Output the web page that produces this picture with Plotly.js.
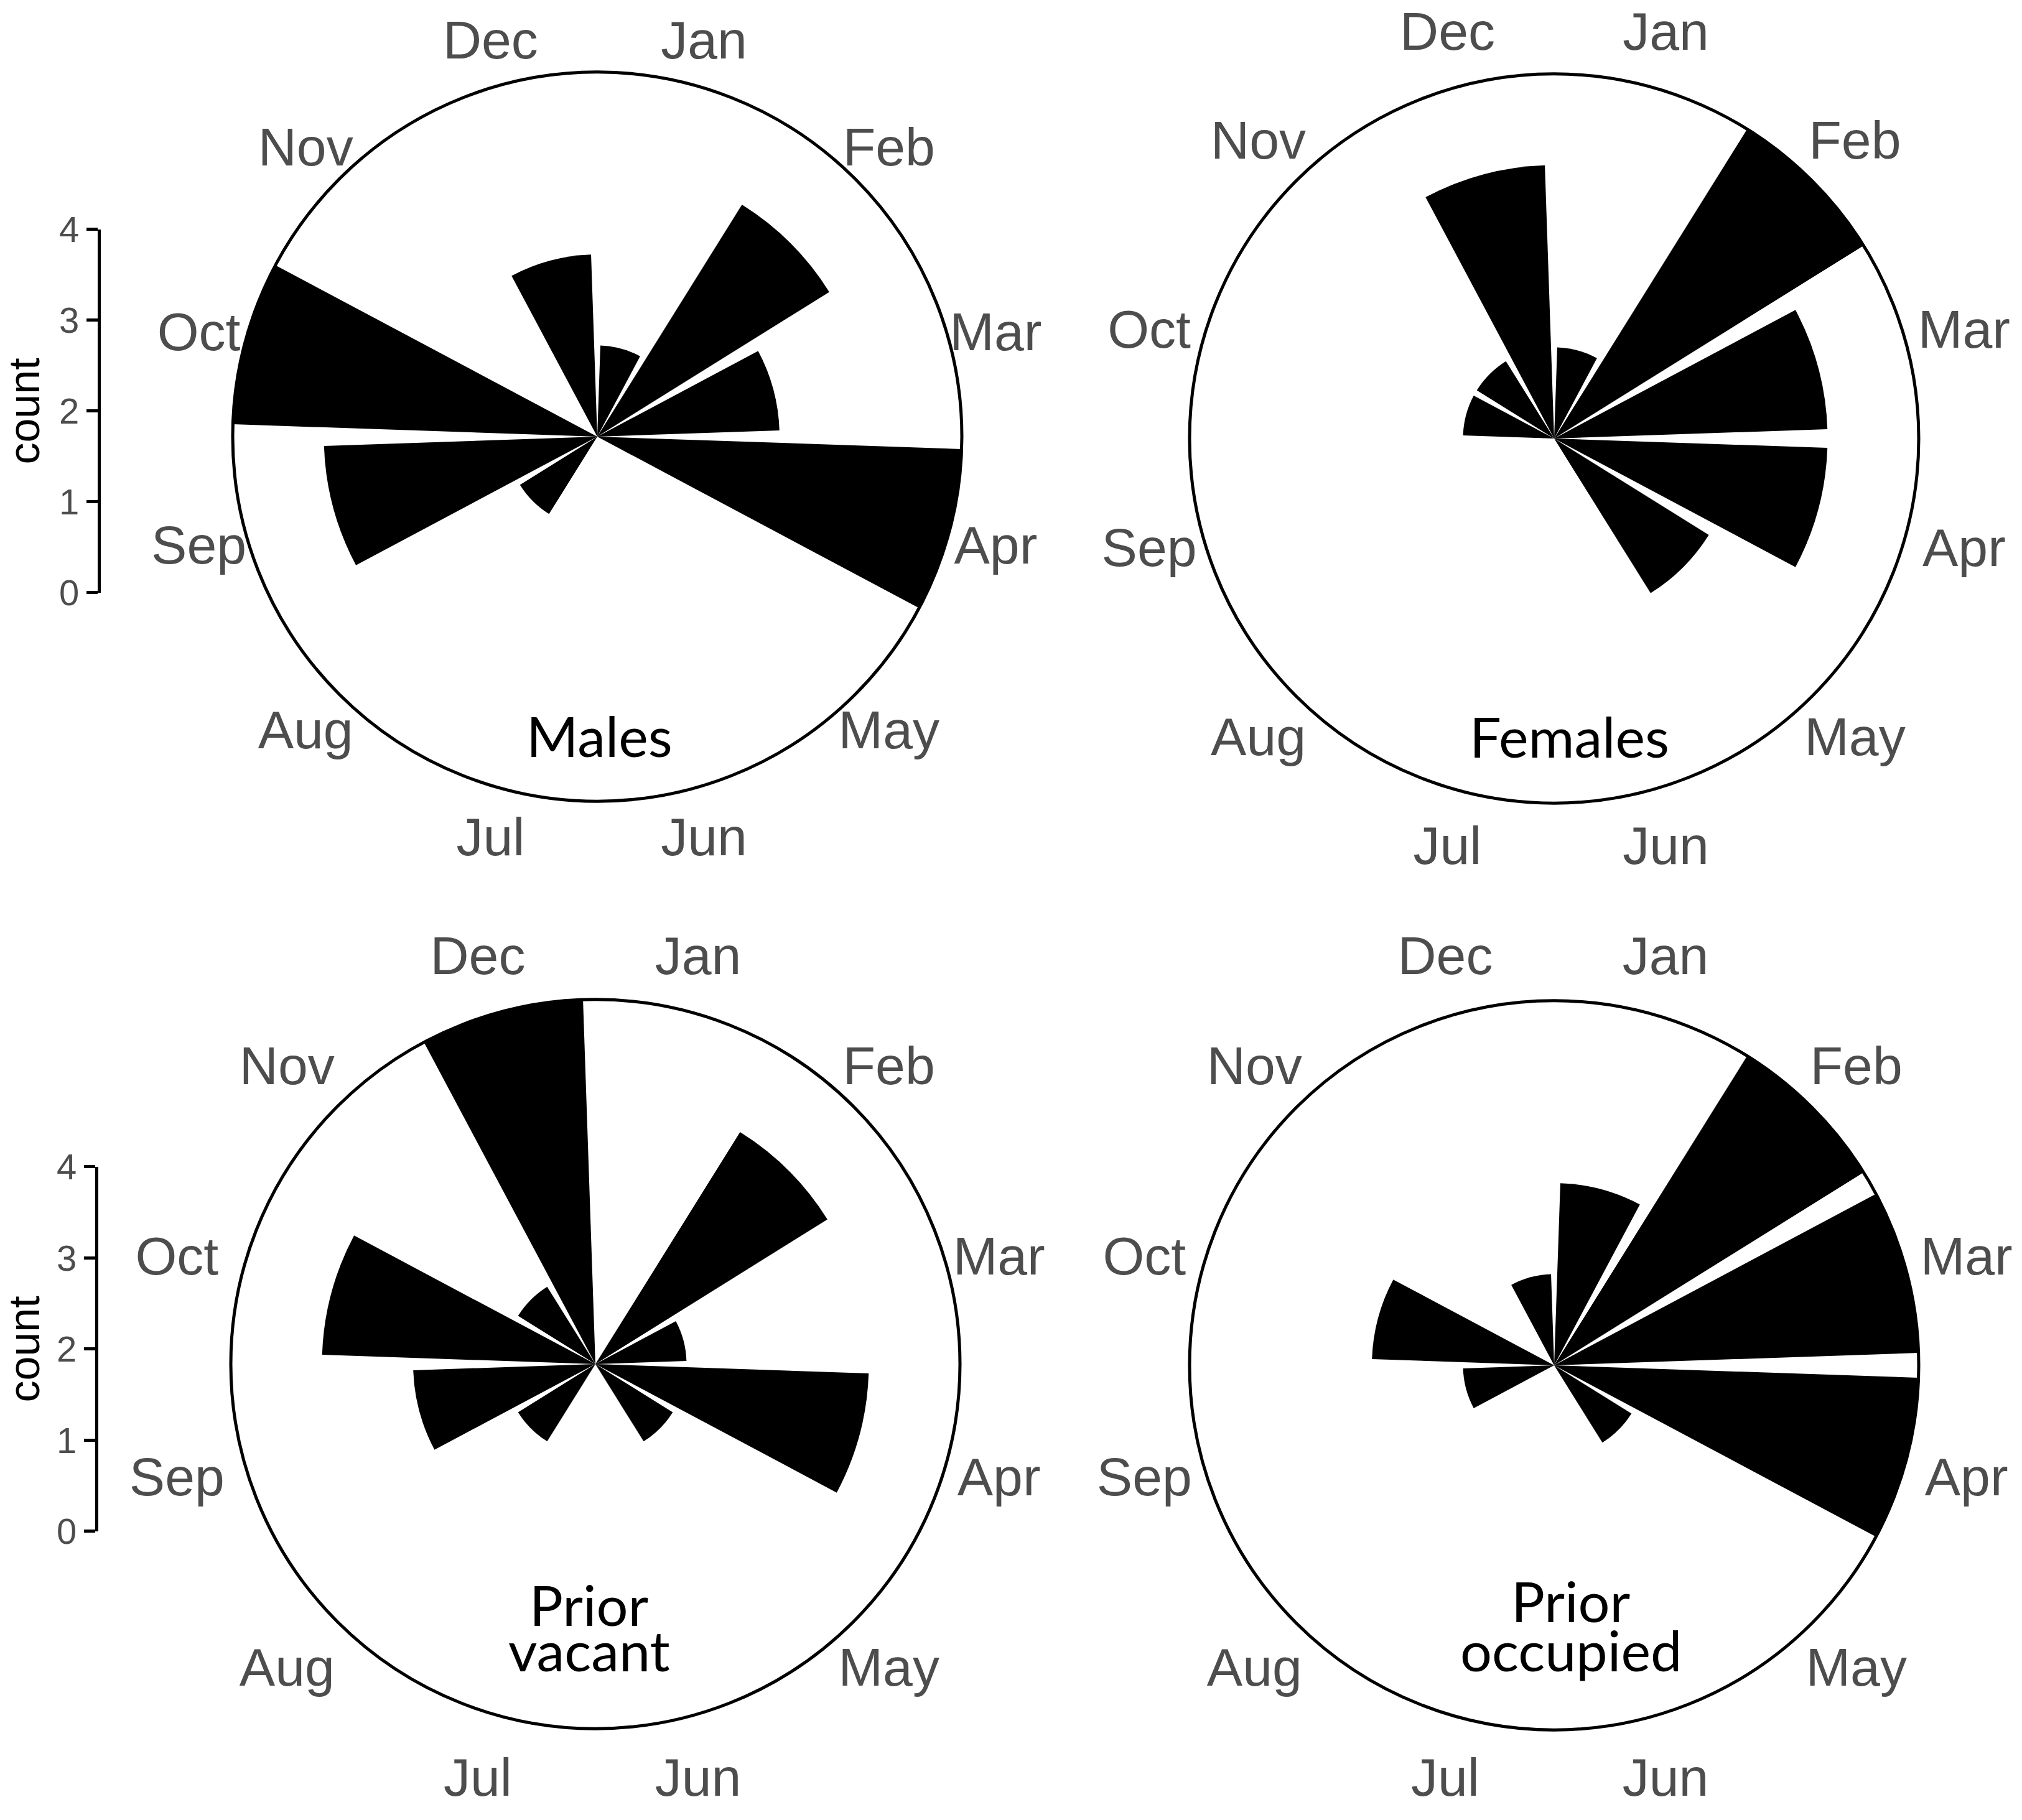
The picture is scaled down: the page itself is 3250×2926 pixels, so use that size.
<!DOCTYPE html>
<html>
<head>
<meta charset="utf-8">
<script src="https://cdn.plot.ly/plotly-3.0.1.min.js"></script>
<style>
  body { margin: 0; background: #fff; }
  #rosas { width: 3250px; height: 2926px; }
</style>
</head>
<body>
<div id="rosas"></div>
<script>
// meses y conteos por grupo
const months = ["Jan", "Feb", "Mar", "Apr", "May", "Jun", "Jul", "Aug", "Sep", "Oct", "Nov", "Dec"];
const males = [1, 3, 2, 4, 0, 0, 0, 1, 3, 4, 0, 2];
const females = [1, 4, 3, 3, 2, 0, 0, 0, 0, 1, 1, 3];
const priorVacant = [0, 3, 1, 3, 1, 0, 0, 1, 2, 3, 1, 4];
const priorOccupied = [2, 4, 4, 4, 1, 0, 0, 0, 1, 2, 0, 1];
const countTicks = [0, 1, 2, 3, 4];

const grupos = [males, females, priorVacant, priorOccupied];
const polares = ["polar", "polar2", "polar3", "polar4"];
const polaresTxt = ["polar5", "polar6", "polar7", "polar8"];

const W = 3250, H = 2926;
const RADIO = 586; // radio del circulo (px) = 4 cuentas
// centros de cada panel (px)
const centros = [[960, 702], [2498, 705], [957, 2193], [2498, 2195]];
// anillo de nombres de meses: centro y radio en px (un poco fuera del circulo)
const centrosTxt = [[960, 713], [2502, 713], [945, 2205], [2500, 2205]];
const radiosTxt = [663, 678, 684, 684];

function dominio(cx, cy, rad) {
  return {
    x: [(cx - rad) / W, (cx + rad) / W],
    y: [1 - (cy + rad) / H, 1 - (cy - rad) / H],
  };
}

function crearTrazos() {
  let trazos = [];
  for (let i = 0; i < grupos.length; i++) {
    trazos.push({
      type: "barpolar",
      r: grupos[i],
      theta: months,
      width: 0.87,
      subplot: polares[i],
      marker: { color: "#000000", line: { width: 0 } },
      hoverinfo: "skip",
      showlegend: false,
    });
    // etiquetas de meses centradas (como en ggplot)
    trazos.push({
      type: "scatterpolar",
      mode: "text",
      r: months.map(() => 1),
      theta: months,
      text: months,
      textposition: "middle center",
      textfont: { family: "Liberation Sans, Arial, sans-serif", size: 86, color: "#4d4d4d" },
      subplot: polaresTxt[i],
      hoverinfo: "skip",
      showlegend: false,
    });
  }
  // ejes "count" de la izquierda (solo el eje, sin datos)
  trazos.push({ x: [0], y: [0], mode: "markers", marker: { opacity: 0 }, xaxis: "x", yaxis: "y", showlegend: false, hoverinfo: "skip" });
  trazos.push({ x: [0], y: [0], mode: "markers", marker: { opacity: 0 }, xaxis: "x2", yaxis: "y2", showlegend: false, hoverinfo: "skip" });
  return trazos;
}

function polarLayout(dom, rmax, conLinea) {
  return {
    domain: dom,
    bgcolor: "rgba(0,0,0,0)",
    radialaxis: { visible: false, range: [0, rmax] },
    angularaxis: {
      type: "category",
      categoryarray: months,
      direction: "clockwise",
      rotation: 75,
      showgrid: false,
      showline: conLinea,
      linecolor: "#000000",
      linewidth: 5,
      ticks: "",
      showticklabels: false,
    },
  };
}

function ejeCount(dom) {
  return {
    domain: dom,
    range: [0, 4],
    tickvals: countTicks,
    ticktext: countTicks.map(String),
    showgrid: false,
    zeroline: false,
    showline: true,
    linecolor: "#000000",
    linewidth: 5,
    ticks: "outside",
    ticklen: 18,
    tickwidth: 5,
    tickcolor: "#000000",
    tickfont: { family: "Liberation Sans, Arial, sans-serif", size: 58, color: "#4d4d4d" },
    title: { text: "count", font: { family: "Liberation Sans, Arial, sans-serif", size: 70, color: "#000000" }, standoff: 14 },
  };
}

const ejeX = { visible: false, range: [0, 1], fixedrange: true };

function etiqueta(txt, x, y) {
  return {
    text: txt, x: x, y: y, xref: "paper", yref: "paper", showarrow: false,
    xanchor: "center", yanchor: "middle",
    font: { family: "Lato, sans-serif", size: 90, color: "#000000" },
  };
}

const layout = {
  width: W,
  height: H,
  margin: { l: 0, r: 0, t: 0, b: 0 },
  paper_bgcolor: "#ffffff",
  plot_bgcolor: "rgba(0,0,0,0)",
  xaxis: Object.assign({ domain: [0.0498, 0.07], anchor: "y" }, ejeX),
  yaxis: Object.assign(ejeCount([0.6743, 0.8739]), { anchor: "x" }),
  xaxis2: Object.assign({ domain: [0.0486, 0.07], anchor: "y2" }, ejeX),
  yaxis2: Object.assign(ejeCount([0.1586, 0.3589]), { anchor: "x2" }),
  annotations: [
    etiqueta("Males", 0.2966, 0.5962),
    etiqueta("Females", 0.7763, 0.5956),
    etiqueta("Prior", 0.2914, 0.1185),
    etiqueta("vacant", 0.2914, 0.0935),
    etiqueta("Prior", 0.7769, 0.1208),
    etiqueta("occupied", 0.7769, 0.0935),
  ],
};

for (let i = 0; i < centros.length; i++) {
  const c = centros[i];
  const ct = centrosTxt[i];
  layout[polares[i]] = polarLayout(dominio(c[0], c[1], RADIO), 4, true);
  layout[polaresTxt[i]] = polarLayout(dominio(ct[0], ct[1], radiosTxt[i] * 1.05), 1.05, false);
}

Plotly.newPlot("rosas", crearTrazos(), layout, { staticPlot: true });
</script>
</body>
</html>
